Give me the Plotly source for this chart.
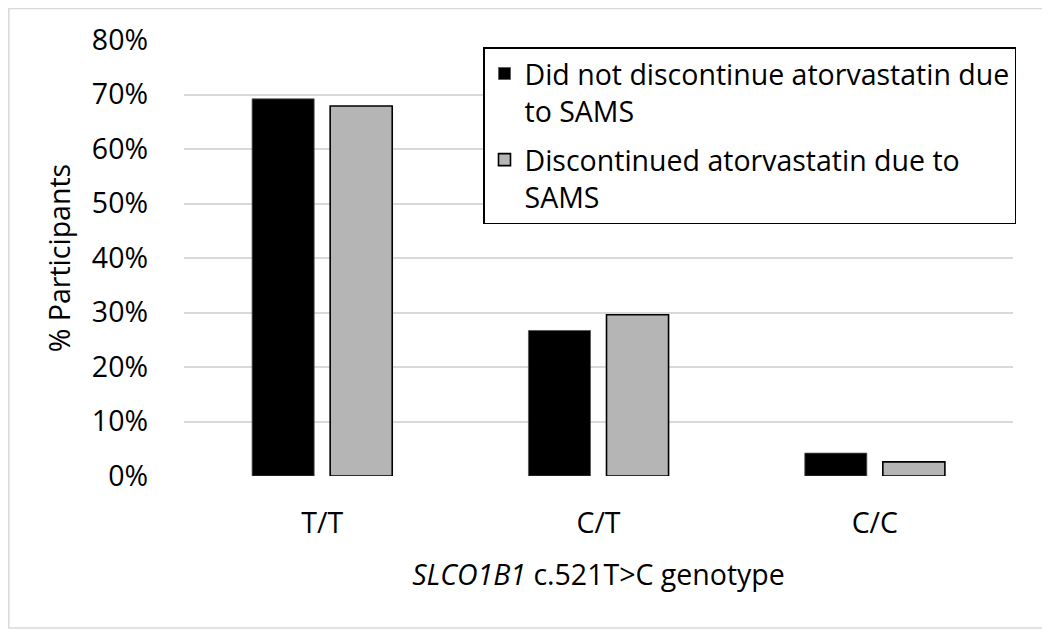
import plotly.graph_objects as go

categories = ["T/T", "C/T", "C/C"]
did_not_discontinue = [0.692, 0.267, 0.042]
discontinued = [0.679, 0.296, 0.026]
series_names = ["Did not discontinue atorvastatin due<br>to SAMS",
                "Discontinued atorvastatin due to<br>SAMS"]
y_ticks = [0, 0.1, 0.2, 0.3, 0.4, 0.5, 0.6, 0.7, 0.8]

FONT = "Open Sans"
FS = 28.5

fig = go.Figure()
fig.add_trace(go.Bar(x=categories, y=did_not_discontinue, name=series_names[0],
                     legendgroup="a",
                     marker=dict(color="#000000", line=dict(color="#555555", width=0.8))))
fig.add_trace(go.Bar(x=categories, y=discontinued, name=series_names[1],
                     legendgroup="b",
                     marker=dict(color="#b5b5b5", line=dict(color="#000000", width=1.6))))

OFF = 8  # page body margin
W, H = 1050, 633
L, T = 184 - OFF, 40 - OFF
B = H - (476 - OFF)
R = W - (1013 - OFF)
pw = W - L - R
ph = H - T - B

def px(x):
    return (x - OFF - L) / pw

def py(y):
    return (H - B - (y - OFF)) / ph

fig.update_layout(
    width=W, height=H,
    margin=dict(l=L, r=R, t=T, b=B, autoexpand=False),
    paper_bgcolor="white", plot_bgcolor="white",
    font=dict(family=FONT, size=FS, color="black"),
    barmode="group", bargap=0.435, bargroupgap=0.205,
    showlegend=True,
    legend=dict(x=px(483), y=py(47), xanchor="left", yanchor="top",
                bordercolor="black", borderwidth=1.5, bgcolor="white",
                font=dict(family=FONT, size=FS, color="black"),
                valign="top", tracegroupgap=9, itemwidth=30),
    xaxis=dict(showgrid=False, showline=False, ticks="", ticklabelstandoff=27,
               automargin=False,
               title=dict(text="<i>SLCO1B1</i> c.521T>C genotype", standoff=25,
                          font=dict(family=FONT, size=FS))),
    yaxis=dict(range=[0, 0.8], tickvals=y_ticks, tickformat=".0%",
               showgrid=True, gridcolor="#d9d9d9", gridwidth=1.5,
               automargin=False,
               zeroline=False, showline=False, ticks="", ticklabelstandoff=35,
               title=dict(text="% Participants", standoff=12,
                          font=dict(family=FONT, size=FS))),
    shapes=[dict(type="rect", xref="paper", yref="paper",
                 x0=-L / pw + 0.001, x1=px(1043), y0=py(628), y1=py(8) - 0.001,
                 line=dict(color="#d9d9d9", width=1.5), layer="below")],
)

fig.write_html("out.html")
